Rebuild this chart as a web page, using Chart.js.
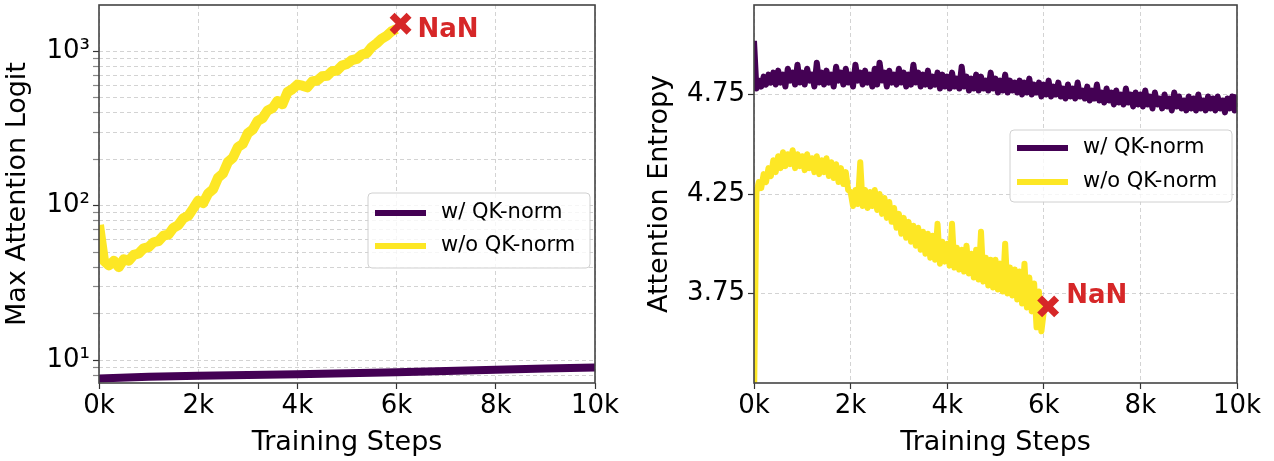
<!DOCTYPE html>
<html>
<head>
<meta charset="utf-8">
<script src="https://cdn.jsdelivr.net/npm/chart.js@4.4.0/dist/chart.umd.min.js"></script>
<style>
    body { margin: 0; background: #fff; }
    #wrap { display: flex; width: 1274px; height: 461px; }
    canvas { display: block; }
</style>
</head>
<body>
<div id="wrap">
    <canvas id="logitChart" width="637" height="461"></canvas>
    <canvas id="entropyChart" width="637" height="461"></canvas>
</div>
<script>
// ---- data ----
var stepTicks = [0, 2000, 4000, 6000, 8000, 10000];

// left panel: max attention logit (log scale)
var logitMajorTicks = [10, 100, 1000];
var logitTickLabels = ['10\u00b9', '10\u00b2', '10\u00b3'];
var logitMinorTicks = [8, 9, 20, 30, 40, 50, 60, 70, 80, 90, 200, 300, 400, 500, 600, 700, 800, 900];

var logitStepsQK = [0, 1000, 2000, 3000, 4000, 5000, 6000, 7000, 8000, 9000, 10000];
var logitWithQK = [7.6, 7.8, 7.9, 8.0, 8.1, 8.2, 8.35, 8.5, 8.65, 8.8, 8.95];

var logitStepSize = 100;
var logitNoQK = [
    75, 44, 41, 44, 40, 45, 44, 48, 49, 53,
    54, 58, 59, 64, 65, 72, 75, 83, 86, 96,
    108, 104, 120, 128, 152, 162, 192, 205, 240, 252,
    295, 312, 355, 370, 415, 430, 478, 455, 545, 570,
    610, 600, 585, 640, 648, 690, 695, 745, 752, 810,
    830, 880, 895, 955, 975, 1070, 1130, 1210, 1265, 1350,
    1400
];
var nanLogit = { x: 6080, y: 1510 };

// right panel: attention entropy
var entropyTicks = [3.75, 4.25, 4.75];
var entropyStepSize = 50;
var entropyWithQK = [
    5.02, 4.78, 4.82, 4.79, 4.84, 4.80, 4.85, 4.81, 4.86, 4.80,
    4.87, 4.81, 4.85, 4.79, 4.88, 4.82, 4.86, 4.80, 4.90, 4.81,
    4.86, 4.80, 4.88, 4.82, 4.85, 4.79, 4.91, 4.81, 4.86, 4.80,
    4.87, 4.81, 4.85, 4.79, 4.89, 4.82, 4.86, 4.80, 4.88, 4.81,
    4.85, 4.79, 4.90, 4.82, 4.86, 4.80, 4.87, 4.81, 4.85, 4.79,
    4.88, 4.80, 4.91, 4.82, 4.86, 4.79, 4.87, 4.81, 4.85, 4.80,
    4.88, 4.81, 4.86, 4.79, 4.85, 4.80, 4.90, 4.81, 4.86, 4.79,
    4.85, 4.80, 4.87, 4.79, 4.84, 4.80, 4.86, 4.78, 4.85, 4.79,
    4.84, 4.78, 4.86, 4.79, 4.83, 4.78, 4.89, 4.79, 4.84, 4.77,
    4.83, 4.78, 4.85, 4.77, 4.84, 4.78, 4.82, 4.77, 4.86, 4.78,
    4.83, 4.76, 4.82, 4.77, 4.85, 4.76, 4.82, 4.77, 4.81, 4.76,
    4.82, 4.75, 4.81, 4.76, 4.83, 4.75, 4.80, 4.76, 4.81, 4.74,
    4.80, 4.75, 4.82, 4.74, 4.79, 4.75, 4.81, 4.74, 4.78, 4.73,
    4.80, 4.74, 4.78, 4.73, 4.81, 4.74, 4.77, 4.73, 4.79, 4.72,
    4.77, 4.73, 4.80, 4.72, 4.76, 4.71, 4.78, 4.72, 4.76, 4.70,
    4.77, 4.71, 4.75, 4.70, 4.78, 4.71, 4.75, 4.69, 4.76, 4.70,
    4.75, 4.69, 4.77, 4.70, 4.74, 4.68, 4.76, 4.70, 4.73, 4.68,
    4.75, 4.69, 4.73, 4.67, 4.76, 4.69, 4.74, 4.68, 4.72, 4.67,
    4.74, 4.68, 4.73, 4.67, 4.75, 4.68, 4.72, 4.67, 4.74, 4.68,
    4.73, 4.67, 4.74, 4.68, 4.72, 4.66, 4.73, 4.68, 4.74, 4.67,
    4.75
];
var entropyNoQK = [
    3.20, 4.26, 4.31, 4.28, 4.35, 4.31, 4.38, 4.34, 4.42, 4.36,
    4.44, 4.38, 4.46, 4.39, 4.45, 4.40, 4.47, 4.38, 4.45, 4.39,
    4.44, 4.37, 4.45, 4.38, 4.43, 4.36, 4.44, 4.35, 4.42, 4.36,
    4.43, 4.34, 4.41, 4.33, 4.40, 4.31, 4.38, 4.30, 4.36, 4.27,
    4.26, 4.19, 4.27, 4.20, 4.41, 4.19, 4.27, 4.18, 4.26, 4.19,
    4.27, 4.17, 4.25, 4.15, 4.23, 4.13, 4.21, 4.11, 4.18, 4.08,
    4.15, 4.05, 4.13, 4.03, 4.11, 4.01, 4.09, 3.99, 4.08, 3.97,
    4.06, 3.95, 4.05, 3.93, 4.04, 3.92, 4.10, 3.90, 4.01, 3.91,
    4.00, 3.89, 4.10, 3.88, 3.98, 3.87, 3.97, 3.86, 3.99, 3.85,
    3.95, 3.83, 3.97, 3.82, 4.06, 3.81, 3.93, 3.79, 3.92, 3.78,
    3.92, 3.77, 3.90, 3.76, 4.00, 3.75, 3.88, 3.74, 3.87, 3.72,
    3.86, 3.70, 3.90, 3.68, 3.83, 3.66, 3.80, 3.58, 3.76, 3.56,
    3.66
];
var nanEntropy = { x: 6090, y: 3.685 };

// ---- colours ----
var purple = '#440154';
var yellow = '#fde725';
var red = '#d62728';
var gridColor = 'rgba(176,176,176,0.7)';

Chart.defaults.font.family = '"DejaVu Sans"';
Chart.defaults.color = '#000';

function toPoints(steps, values) {
    return values.map(function (v, i) { return { x: steps[i], y: v }; });
}
function evenSteps(values, size) {
    return values.map(function (v, i) { return i * size; });
}

// frame, NaN label and the legend box inside the axes
var panelDecor = {
    id: 'panelDecor',
    afterDatasetsDraw: function (chart, args, opts) {
        var ctx = chart.ctx, a = chart.chartArea;
        ctx.save();
        ctx.strokeStyle = '#444';
        ctx.lineWidth = 1.6;
        ctx.strokeRect(a.left, a.top, a.right - a.left, a.bottom - a.top);

        var pt = chart.getDatasetMeta(2).data[0];
        ctx.fillStyle = red;
        ctx.font = 'bold 26px "DejaVu Sans"';
        ctx.textBaseline = 'middle';
        ctx.fillText('NaN', pt.x + opts.nanDx, pt.y + opts.nanDy);
        ctx.restore();
    },
    afterDraw: function (chart, args, opts) {
        var ctx = chart.ctx, a = chart.chartArea, lg = opts.legend;
        var w = 222, x = a.right - 5 - w, y = a.top + lg.top;
        ctx.save();
        ctx.beginPath();
        ctx.roundRect(x, y, w, lg.height, 4);
        ctx.fillStyle = 'rgba(255,255,255,0.8)';
        ctx.fill();
        ctx.strokeStyle = '#d0d0d0';
        ctx.lineWidth = 1;
        ctx.stroke();
        ctx.font = '21px "DejaVu Sans"';
        ctx.textBaseline = 'middle';
        for (var i = 0; i < 2; i++) {
            var ds = chart.data.datasets[i];
            var ry = y + lg.firstRow + i * lg.rowGap;
            ctx.beginPath();
            ctx.moveTo(x + 7, ry);
            ctx.lineTo(x + 58, ry);
            ctx.strokeStyle = ds.borderColor;
            ctx.lineWidth = 6;
            ctx.stroke();
            ctx.fillStyle = '#000';
            ctx.fillText(ds.label, x + 73, ry);
        }
        ctx.restore();
    }
};

function xScale() {
    return {
        type: 'linear', min: 0, max: 10000,
        afterBuildTicks: function (s) { s.ticks = stepTicks.map(function (v) { return { value: v }; }); },
        afterFit: function (s) { s.height = 78; s.paddingLeft = 0; s.paddingRight = 0; },
        ticks: {
            font: { size: 26 }, color: '#000', padding: 2, maxRotation: 0, autoSkip: false,
            callback: function (v) { return (v / 1000) + 'k'; }
        },
        grid: { color: gridColor, lineWidth: 0.8, tickColor: '#333', tickLength: 6, tickWidth: 1.2 },
        border: { display: false, dash: [4, 3] },
        title: { display: true, text: 'Training Steps', font: { size: 27 }, padding: { top: 0, bottom: 2 } }
    };
}

var lineStyle = { pointRadius: 0, clip: 0, borderJoinStyle: 'round' };

// left chart
new Chart(document.getElementById('logitChart'), {
    type: 'line',
    data: {
        datasets: [
            Object.assign({ label: 'w/ QK-norm', data: toPoints(logitStepsQK, logitWithQK), borderColor: purple,
              borderWidth: 8, order: 3 }, lineStyle),
            Object.assign({ label: 'w/o QK-norm', data: toPoints(evenSteps(logitNoQK, logitStepSize), logitNoQK),
              borderColor: yellow, borderWidth: 10, order: 2 }, lineStyle),
            { type: 'scatter', label: 'NaN', data: [nanLogit], pointStyle: 'crossRot', pointRadius: 12,
              borderWidth: 7, borderColor: red, backgroundColor: red, order: 1 }
        ]
    },
    options: {
        responsive: false, animation: false,
        layout: { autoPadding: false, padding: { top: 5, right: 42, left: 0, bottom: 0 } },
        plugins: {
            legend: { display: false }, tooltip: { enabled: false },
            panelDecor: { nanDx: 17, nanDy: 6, legend: { top: 188, height: 75, firstRow: 20, rowGap: 33 } }
        },
        scales: {
            x: xScale(),
            y: {
                type: 'logarithmic', min: 7.1, max: 2000,
                afterBuildTicks: function (s) {
                    s.ticks = logitMajorTicks.concat(logitMinorTicks).sort(function (p, q) { return p - q; })
                        .map(function (v) { return { value: v }; });
                },
                afterFit: function (s) { s.width = 99; s.paddingTop = 0; s.paddingBottom = 0; },
                ticks: {
                    font: { size: 26 }, color: '#000', padding: 3, autoSkip: false,
                    callback: function (v) {
                        var k = logitMajorTicks.indexOf(v);
                        return k >= 0 ? logitTickLabels[k] : '';
                    }
                },
                grid: {
                    color: gridColor, lineWidth: 0.8, tickLength: 6, tickWidth: 1.2,
                    tickColor: function (c) { return logitMajorTicks.indexOf(c.tick.value) >= 0 ? '#333' : '#888'; }
                },
                border: { display: false, dash: [4, 3] },
                title: { display: true, text: 'Max Attention Logit', font: { size: 27 }, padding: { top: 2, bottom: 0 } }
            }
        }
    },
    plugins: [panelDecor]
});

// right chart
new Chart(document.getElementById('entropyChart'), {
    type: 'line',
    data: {
        datasets: [
            Object.assign({ label: 'w/ QK-norm', data: toPoints(evenSteps(entropyWithQK, entropyStepSize), entropyWithQK),
              borderColor: purple, borderWidth: 6, order: 3 }, lineStyle),
            Object.assign({ label: 'w/o QK-norm', data: toPoints(evenSteps(entropyNoQK, entropyStepSize), entropyNoQK),
              borderColor: yellow, borderWidth: 6, order: 2 }, lineStyle),
            { type: 'scatter', label: 'NaN', data: [nanEntropy], pointStyle: 'crossRot', pointRadius: 12,
              borderWidth: 7, borderColor: red, backgroundColor: red, order: 1 }
        ]
    },
    options: {
        responsive: false, animation: false,
        layout: { autoPadding: false, padding: { top: 5, right: 37, left: 0, bottom: 0 } },
        plugins: {
            legend: { display: false }, tooltip: { enabled: false },
            panelDecor: { nanDx: 18, nanDy: -10, legend: { top: 125, height: 72, firstRow: 18, rowGap: 34 } }
        },
        scales: {
            x: xScale(),
            y: {
                type: 'linear', min: 3.3, max: 5.2,
                afterBuildTicks: function (s) { s.ticks = entropyTicks.map(function (v) { return { value: v }; }); },
                afterFit: function (s) { s.width = 117; s.paddingTop = 0; s.paddingBottom = 0; },
                ticks: {
                    font: { size: 26 }, color: '#000', padding: 3, autoSkip: false,
                    callback: function (v) { return v.toFixed(2); }
                },
                grid: { color: gridColor, lineWidth: 0.8, tickColor: '#333', tickLength: 6, tickWidth: 1.2 },
                border: { display: false, dash: [4, 3] },
                title: { display: true, text: 'Attention Entropy', font: { size: 27 }, padding: { top: 7, bottom: 0 } }
            }
        }
    },
    plugins: [panelDecor]
});
</script>
</body>
</html>
